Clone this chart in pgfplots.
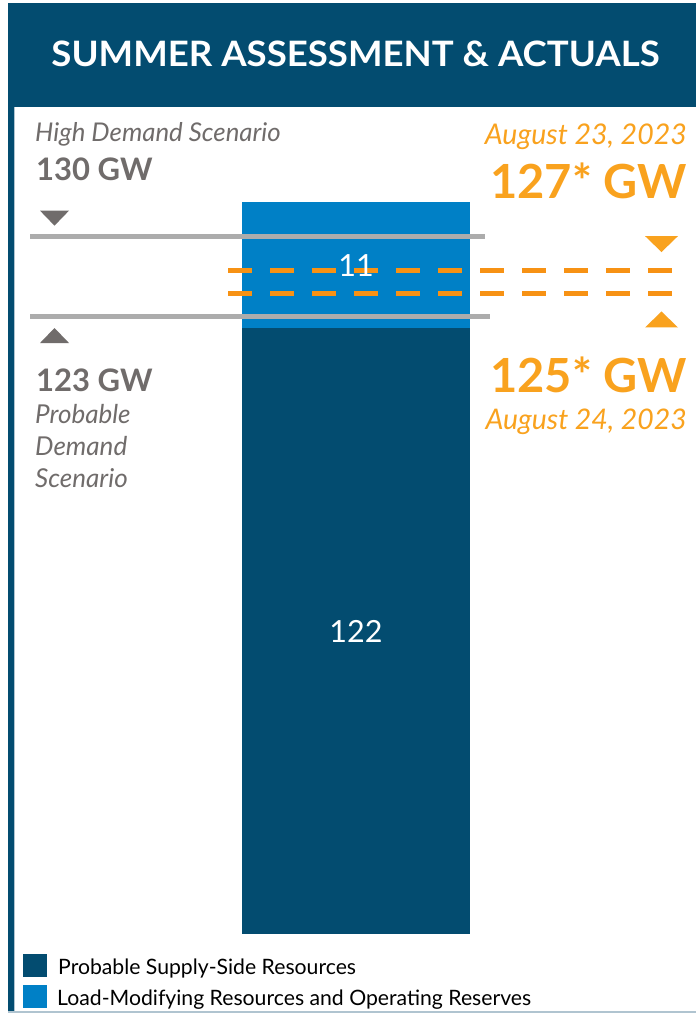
\documentclass[border=0pt]{standalone}
\usepackage{fontspec}
\setmainfont{Lato}
\usepackage{pgfplots}
\pgfplotsset{compat=1.18}
\definecolor{navy}{RGB}{3,76,112}
\definecolor{lblue}{RGB}{0,128,198}
\definecolor{lgray}{RGB}{172,172,172}
\definecolor{tgray}{RGB}{112,108,107}
\definecolor{orT}{RGB}{249,162,30}
\definecolor{orL}{RGB}{247,146,20}
\definecolor{edge}{RGB}{176,196,208}

\pgfdeclareplotmark{tdownS}{\pgfpathmoveto{\pgfqpoint{-14.5pt}{7.5pt}}\pgfpathlineto{\pgfqpoint{14.5pt}{7.5pt}}\pgfpathlineto{\pgfqpoint{0pt}{-7.5pt}}\pgfpathclose\pgfusepathqfill}
\pgfdeclareplotmark{tupS}{\pgfpathmoveto{\pgfqpoint{-14.5pt}{-7.5pt}}\pgfpathlineto{\pgfqpoint{14.5pt}{-7.5pt}}\pgfpathlineto{\pgfqpoint{0pt}{7.5pt}}\pgfpathclose\pgfusepathqfill}
\pgfdeclareplotmark{tdownL}{\pgfpathmoveto{\pgfqpoint{-16.5pt}{8pt}}\pgfpathlineto{\pgfqpoint{16.5pt}{8pt}}\pgfpathlineto{\pgfqpoint{0pt}{-8pt}}\pgfpathclose\pgfusepathqfill}
\pgfdeclareplotmark{tupL}{\pgfpathmoveto{\pgfqpoint{-16.5pt}{-8pt}}\pgfpathlineto{\pgfqpoint{16.5pt}{-8pt}}\pgfpathlineto{\pgfqpoint{0pt}{8pt}}\pgfpathclose\pgfusepathqfill}

\begin{document}
\begin{tikzpicture}[x=1pt,y=1pt]
\path[use as bounding box] (0,0) rectangle (696,1014);
% frame
\fill[navy] (8,2) rectangle (696,1011);
\fill[white] (14,2) rectangle (696,907);
\draw[edge, line width=1.2pt] (14.6,2) -- (14.6,907);
\draw[edge, line width=1.5pt] (8,1.75) -- (696,1.75);
% title
\node[white, anchor=base, inner sep=0pt, font=\fontsize{35}{40}\selectfont\bfseries] at (355.5,947) {\scalebox{1.045}[1]{SUMMER ASSESSMENT \& ACTUALS}};

% bars
\begin{axis}[at={(14pt,80pt)}, anchor=south west, scale only axis,
  width=682pt, height=827pt, xmin=14, xmax=696, ymin=69.083, ymax=141.31,
  axis lines=none, ybar stacked, bar width=228]
\addplot[fill=navy, draw=none] coordinates {(356,122)};
\addplot[fill=lblue, draw=none] coordinates {(356,11)};
\end{axis}

% demand lines and markers
\begin{axis}[at={(14pt,80pt)}, anchor=south west, scale only axis,
  width=682pt, height=827pt, xmin=14, xmax=696, ymin=69.083, ymax=141.31,
  axis lines=none, clip=false]
\addplot[lgray, line width=5.5pt] coordinates {(30,130) (485,130)};
\addplot[lgray, line width=5.5pt] coordinates {(30,123) (490,123)};
\addplot[orL, line width=5pt, dash pattern=on 24pt off 18pt] coordinates {(228,127) (672,127)};
\addplot[orL, line width=5pt, dash pattern=on 24pt off 18pt] coordinates {(228,125) (672,125)};
\addplot[only marks, mark=tdownS, color=tgray] coordinates {(54.5,131.6)};
\addplot[only marks, mark=tupS, color=tgray] coordinates {(54.5,121.35)};
\addplot[only marks, mark=tdownL, color=orT] coordinates {(661.5,129.34)};
\addplot[only marks, mark=tupL, color=orT] coordinates {(661.5,122.75)};
\node[white, font=\fontsize{30.5}{36}\selectfont] at (axis cs:356,127.5) {11};
\node[white, font=\fontsize{30.5}{36}\selectfont] at (axis cs:356,95.5) {122};
\end{axis}

% left annotations
\begin{scope}[every node/.style={anchor=base west, inner sep=0pt, text=tgray}]
\node[font=\fontsize{25.8}{30}\selectfont\itshape] at (35,872) {High Demand Scenario};
\node[font=\fontsize{31}{36}\selectfont\bfseries] at (36,833) {130 GW};
\node[font=\fontsize{31}{36}\selectfont\bfseries] at (36,622) {123 GW};
\node[font=\fontsize{26}{30}\selectfont\itshape] at (35,590) {Probable};
\node[font=\fontsize{26}{30}\selectfont\itshape] at (35,558) {Demand};
\node[font=\fontsize{26}{30}\selectfont\itshape] at (35,526) {Scenario};
\end{scope}
% right annotations
\begin{scope}[every node/.style={anchor=base east, inner sep=0pt, text=orT}]
\node[font=\fontsize{28.5}{32}\selectfont\itshape] at (687,869) {August 23, 2023};
\node[font=\fontsize{47}{56}\selectfont\bfseries] at (687,815) {127* GW};
\node[font=\fontsize{47}{56}\selectfont\bfseries] at (687,621) {125* GW};
\node[font=\fontsize{28.4}{32}\selectfont\itshape] at (687,584) {August 24, 2023};
\end{scope}

% legend
\fill[navy] (23,37) rectangle (47,60);
\fill[lblue] (23,6) rectangle (47,29);
\node[anchor=base west, inner sep=0pt, font=\fontsize{21.2}{26}\selectfont] at (58,39) {Probable Supply-Side Resources};
\node[anchor=base west, inner sep=0pt, font=\fontsize{21.2}{26}\selectfont] at (57,9) {Load-Modifying Resources and Operating Reserves};
\end{tikzpicture}
\end{document}
